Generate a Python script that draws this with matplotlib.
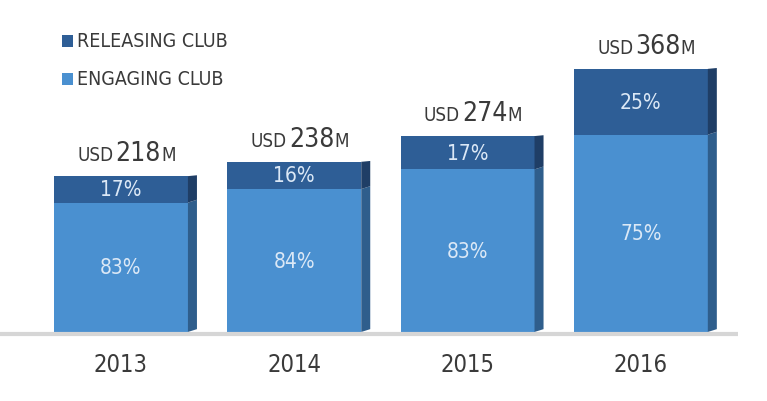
import matplotlib
matplotlib.use("Agg")
import matplotlib.pyplot as plt
from matplotlib.patches import Polygon, Rectangle

plt.rcParams['font.family'] = ['DejaVu Sans']
plt.rcParams['font.stretch'] = 'condensed'

years = ["2013", "2014", "2015", "2016"]
totals = [218, 238, 274, 368]
engaging_pct = [83, 84, 83, 75]
releasing_pct = [17, 16, 17, 25]

light = "#4a90d0"
light_side = "#2f5e8c"
dark = "#2e5e96"
dark_side = "#1f3e66"
txt = "#3a3a3a"
lbl = "#dbe8f6"

fig = plt.figure(figsize=(7.67, 4.02), dpi=100)
ax = fig.add_axes([0, 0, 1, 1])
ax.set_xlim(-0.698, 3.728)
ax.set_ylim(-96.5, 465.7)
ax.axis("off")

w = 0.773
depth = 0.052
slant = 4

for i, (yr, tot, e, r) in enumerate(zip(years, totals, engaging_pct, releasing_pct)):
    x0 = i - w / 2
    x1 = i + w / 2
    eh = tot * e / 100
    ax.add_patch(Rectangle((x0, 0), w, eh, facecolor=light, edgecolor="none"))
    ax.add_patch(Rectangle((x0, eh), w, tot - eh, facecolor=dark, edgecolor="none"))
    ax.add_patch(Polygon([(x1, 0), (x1 + depth, slant), (x1 + depth, eh + slant), (x1, eh)],
                         facecolor=light_side, edgecolor="none"))
    ax.add_patch(Polygon([(x1, eh), (x1 + depth, eh + slant), (x1 + depth, tot + slant * 0.3), (x1, tot)],
                         facecolor=dark_side, edgecolor="none"))
    ax.text(i, eh / 2, f"{e}%", ha="center", va="center", color=lbl, fontsize=15)
    ax.text(i, eh + (tot - eh) / 2, f"{r}%", ha="center", va="center", color=lbl, fontsize=15)
    ax.text(i, -45, yr, ha="center", va="center", color=txt, fontsize=17)

ax.plot([-0.698, 3.56], [-3, -3], color="#d6d6d6", lw=3, solid_capstyle="butt")

# value labels: "USD" small, number large, "M" small
fig.canvas.draw()
r = fig.canvas.get_renderer()
inv = ax.transData.inverted()
for i, tot in enumerate(totals):
    yb = tot + 22
    num = ax.text(i + 0.1, yb, str(tot), ha="center", va="baseline", color=txt, fontsize=19)
    bb = num.get_window_extent(r)
    left = inv.transform((bb.x0, bb.y0))[0]
    right = inv.transform((bb.x1, bb.y0))[0]
    ax.text(left - 0.012, yb, "USD", ha="right", va="baseline", color=txt, fontsize=13.5)
    ax.text(right, yb, "M", ha="left", va="baseline", color=txt, fontsize=13.5)

# legend
ax.add_patch(Rectangle((-0.34, 399), 0.066, 16, facecolor=dark, edgecolor="none"))
ax.add_patch(Rectangle((-0.34, 346), 0.066, 16, facecolor=light, edgecolor="none"))
ax.text(-0.252, 407, "RELEASING CLUB", ha="left", va="center", color=txt, fontsize=14)
ax.text(-0.252, 354, "ENGAGING CLUB", ha="left", va="center", color=txt, fontsize=14)

fig.savefig("out.png", dpi=100)
